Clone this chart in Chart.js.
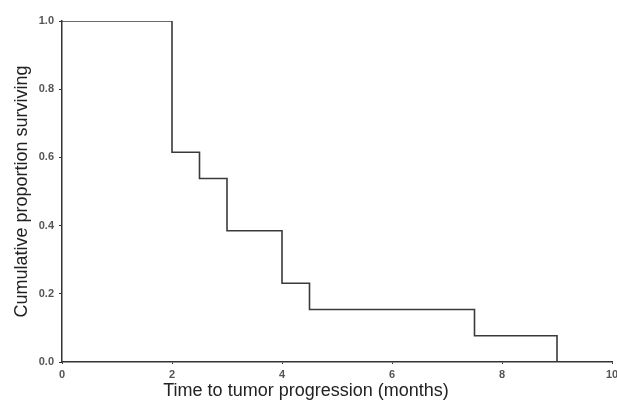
<!DOCTYPE html>
<html>
<head>
<meta charset="utf-8">
<script src="https://cdn.jsdelivr.net/npm/chart.js@4/dist/chart.umd.min.js"></script>
<style>
  html, body { margin: 0; padding: 0; background: #fff; }
  #wrap { width: 617px; height: 405px; position: relative; }
</style>
</head>
<body>
<div id="wrap"><canvas id="km"></canvas></div>
<script>
// Kaplan-Meier estimate, time in months
const times = [0, 2, 2.5, 3, 4, 4.5, 7.5, 9];
const survival = [1.0, 0.615, 0.538, 0.385, 0.231, 0.154, 0.077, 0.0];
const xTicks = [0, 2, 4, 6, 8, 10];
const yTicks = [0.0, 0.2, 0.4, 0.6, 0.8, 1.0];

const points = times.map((t, i) => ({ x: t, y: survival[i] }));

const tickFont = { family: 'Liberation Sans, Arial', size: 11, weight: 'bold' };
const titleFont = { family: 'Liberation Sans, Arial', size: 18, weight: 'normal' };

const ctx = document.getElementById('km').getContext('2d');
new Chart(ctx, {
    type: 'line',
    data: {
        datasets: [{
            data: points,
            stepped: true,
            borderColor: '#3a3a3a',
            borderWidth: 1.6,
            pointRadius: 0,
            fill: false
        }]
    },
    options: {
        responsive: true,
        maintainAspectRatio: false,
        animation: false,
        layout: { padding: { top: 21, right: 5, left: 0, bottom: 0 } },
        plugins: {
            legend: { display: false },
            tooltip: { enabled: false },
            // x title centred on the whole figure, as in the original
            title: {
                display: true,
                position: 'bottom',
                text: 'Time to tumor progression (months)',
                color: '#222',
                font: titleFont,
                padding: { top: 0, bottom: 3 }
            }
        },
        scales: {
            x: {
                type: 'linear',
                min: 0,
                max: 10,
                afterBuildTicks: axis => { axis.ticks = xTicks.map(v => ({ value: v })); },
                afterFit: axis => {
                    axis.height = 18.4;
                    axis.paddingRight = 0;
                    axis.paddingLeft = 0;
                },
                border: { color: '#333', width: 1.5 },
                grid: { drawOnChartArea: false, tickLength: 2, color: '#333' },
                ticks: {
                    color: '#555',
                    font: tickFont,
                    padding: 4,
                    maxRotation: 0
                }
            },
            y: {
                min: 0,
                max: 1,
                afterBuildTicks: axis => { axis.ticks = yTicks.map(v => ({ value: v })); },
                afterFit: axis => { axis.width = 62; },
                border: { color: '#333', width: 1.5 },
                grid: { drawOnChartArea: false, tickLength: 3, color: '#333' },
                ticks: {
                    color: '#555',
                    font: tickFont,
                    padding: 5,
                    callback: v => v.toFixed(1)
                },
                title: {
                    display: true,
                    text: 'Cumulative proportion surviving',
                    color: '#222',
                    font: titleFont,
                    padding: { top: 11, bottom: 0 }
                }
            }
        }
    }
});
</script>
</body>
</html>
